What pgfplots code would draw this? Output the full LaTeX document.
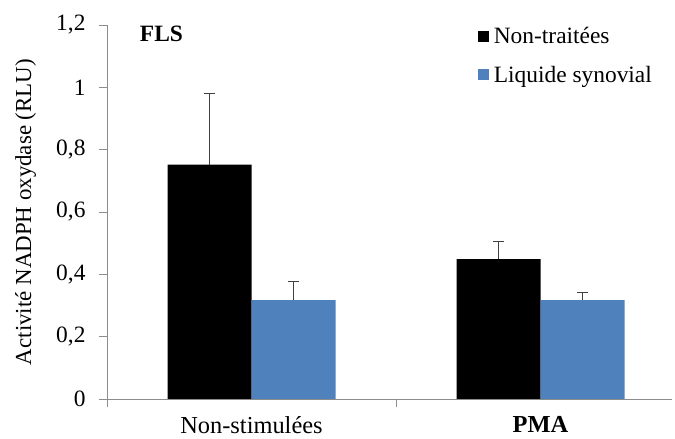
\documentclass[border=0pt]{standalone}
\usepackage{fontspec}
\setmainfont{Liberation Serif}
\usepackage{pgfplots}
\pgfplotsset{compat=1.18}
\definecolor{barblue}{RGB}{79,129,189}
\definecolor{axgray}{RGB}{140,140,140}
\begin{document}
\begin{tikzpicture}
\useasboundingbox (0,0) rectangle (675bp,439bp);
\begin{axis}[
  at={(107bp,40bp)}, anchor=south west,
  scale only axis, width=565bp, height=374bp,
  xmin=-0.5, xmax=1.455, ymin=0, ymax=1.2,
  ybar=0pt, bar width=84bp,
  axis x line=bottom, axis y line=left,
  axis line style={-, draw=axgray, line width=0.8pt},
  tick align=outside,
  major tick length=8bp,
  tick style={draw=axgray, line width=0.8pt},
  ytick={0,0.2,0.4,0.6,0.8,1,1.2},
  y tick label style={xshift=-10bp, font=\fontsize{23.5}{26}\selectfont, /pgf/number format/.cd, use comma, fixed, assume math mode=true},
  xtick={-0.5,0.5}, xticklabels={},
  extra x ticks={0,1},
  extra x tick labels={Non-stimulées,\textbf{PMA}},
  extra x tick style={major tick length=0pt, tick style={draw=none}, xticklabel style={yshift=-14bp, font=\fontsize{24.5}{27}\selectfont}},
  ylabel={Activité NADPH oxydase (RLU)},
  ylabel style={at={(axis description cs:-0.163,0.5)}, anchor=north, inner sep=0pt, font=\fontsize{23}{26}\selectfont},
  legend style={draw=none, fill=none, at={(axis description cs:0.656,1.0)}, anchor=north west, font=\fontsize{23.5}{26}\selectfont, row sep=17bp, inner sep=0pt},
  legend cell align=left,
  legend image code/.code={\fill[#1] (0bp,-5.5bp) rectangle (11bp,5.5bp); \path (14bp,0bp);},
  error bars/error bar style={draw=black!75, line width=1pt},
  error bars/error mark options={rotate=90, mark size=5.5bp, draw=black!75, line width=1pt},
]
\addplot[fill=black, draw=none, error bars/.cd, y dir=plus, y explicit]
  coordinates {(0,0.752) +- (0,0.227) (1,0.449) +- (0,0.056)};
\addplot[fill=barblue, draw=none, error bars/.cd, y dir=plus, y explicit]
  coordinates {(0,0.317) +- (0,0.061) (1,0.317) +- (0,0.024)};
\legend{Non-traitées, Liquide synovial}
\node[anchor=west, font=\fontsize{23.5}{26}\selectfont\bfseries, inner sep=0pt] at (axis description cs:0.058,0.975) {FLS};
\end{axis}
\end{tikzpicture}
\end{document}
